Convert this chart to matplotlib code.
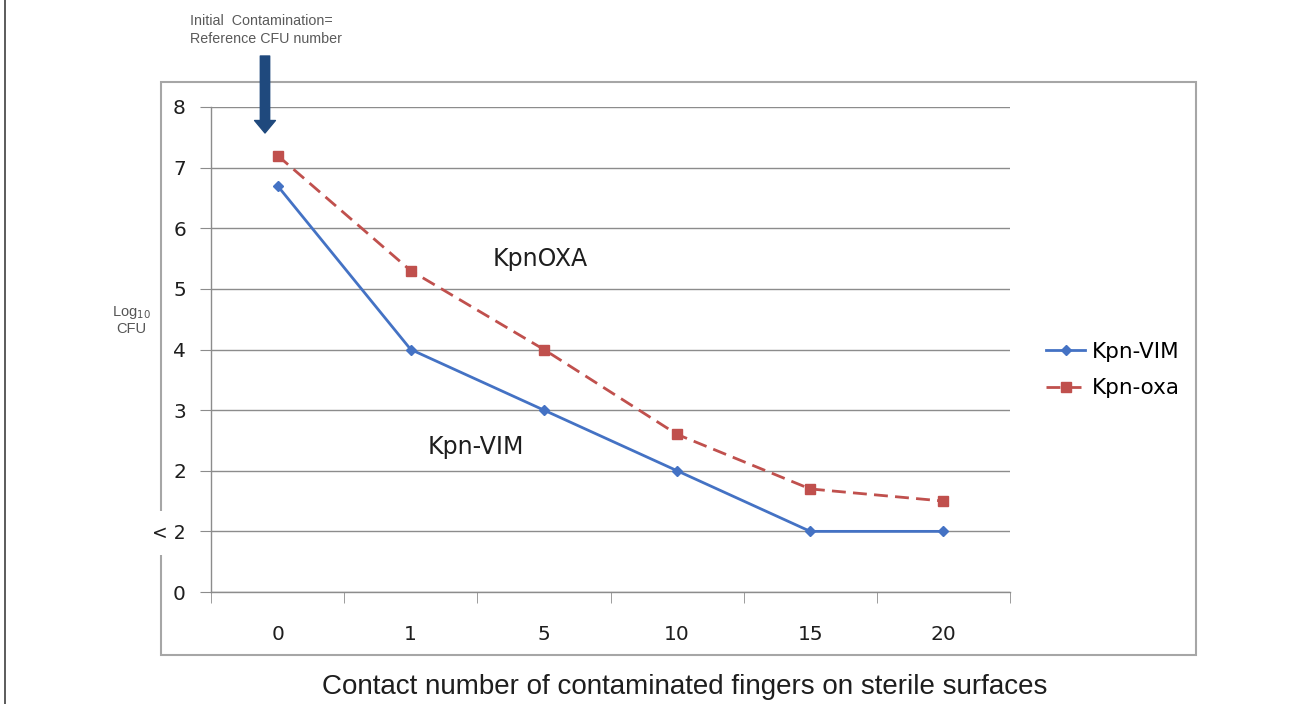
import matplotlib
matplotlib.use("Agg")
import matplotlib.pyplot as plt
from matplotlib.patches import Rectangle
from matplotlib.lines import Line2D

# data
contacts = ["0", "1", "5", "10", "15", "20"]
kpn_vim = [6.7, 4.0, 3.0, 2.0, 1.0, 1.0]
kpn_oxa = [7.2, 5.3, 4.0, 2.6, 1.7, 1.5]
y_ticks = [0, 1, 2, 3, 4, 5, 6, 7, 8]
y_tick_labels = ["0", "< 2", "2", "3", "4", "5", "6", "7", "8"]

W, H = 1293, 704
BLUE = "#4472C4"
RED = "#C0504D"
GRID = "#8C8C8C"
TXT = "#1E1E1E"


def fx(px):
    return px / W


def fy(py):
    return 1 - py / H


fig = plt.figure(figsize=(W / 100, H / 100), dpi=100)
fig.patch.set_facecolor("white")

# outer chart box (drawn under the axes so the "< 2" label can mask it)
fig.patches.append(Rectangle((fx(161), fy(655)), fx(1196) - fx(161), fy(82) - fy(655),
                             transform=fig.transFigure, fill=False,
                             edgecolor="#A6A6A6", lw=1.5, zorder=-1))
# page border on the left
fig.add_artist(Line2D([fx(5), fx(5)], [0, 1], transform=fig.transFigure,
                      color="#404040", lw=1.2))

ax = fig.add_axes([fx(211), fy(592), fx(1010) - fx(211), fy(107) - fy(592)])
x = list(range(len(contacts)))

ax.plot(x, kpn_vim, color=BLUE, lw=2.0, marker="D", ms=5.5, label="Kpn-VIM", zorder=3)
ax.plot(x, kpn_oxa, color=RED, lw=2.0, ls=(0, (5, 2.6)), marker="s", ms=7,
        label="Kpn-oxa", zorder=3)

ax.set_xlim(-0.5, len(contacts) - 0.5)
ax.set_ylim(0, 8)
ax.set_yticks(y_ticks)
ax.set_yticklabels(y_tick_labels)
ax.set_xticks(x)
ax.set_xticklabels(contacts)
ax.set_xticks([i - 0.5 for i in range(len(contacts) + 1)], minor=True)
ax.yaxis.grid(True, color=GRID, lw=1.0)
ax.set_axisbelow(True)

for side in ("top", "right"):
    ax.spines[side].set_visible(False)
for side in ("left", "bottom"):
    ax.spines[side].set_color(GRID)
    ax.spines[side].set_linewidth(1.0)

ax.tick_params(axis="y", length=8, color=GRID, pad=10, labelsize=14.5, labelcolor=TXT)
ax.tick_params(axis="x", which="major", length=0, pad=24, labelsize=14.5, labelcolor=TXT)
ax.tick_params(axis="x", which="minor", length=8, color=GRID)
for lab in ax.get_yticklabels() + ax.get_xticklabels():
    lab.set_fontfamily("DejaVu Sans")
lt = ax.get_yticklabels()[1]
lt.set_fontsize(13.5)
lt.set_bbox(dict(facecolor="white", edgecolor="none", pad=9))

ax.text(1.97, 5.5, "KpnOXA", fontsize=17, family="DejaVu Sans", color=TXT,
        ha="center", va="center")
ax.text(1.49, 2.39, "Kpn-VIM", fontsize=17, family="DejaVu Sans", color=TXT,
        ha="center", va="center")

# y label and annotation
fig.text(fx(131), fy(320), "Log$_{10}$\nCFU", fontsize=10.5, color="#555555",
         ha="center", va="center", family="Liberation Sans", linespacing=1.15)
fig.text(fx(190), fy(30), "Initial  Contamination=\nReference CFU number", fontsize=10.3,
         color="#5A5A5A", ha="left", va="center", family="Liberation Sans", linespacing=1.45)
ax.annotate("", xy=(fx(265), fy(133)), xytext=(fx(265), fy(56)),
            xycoords="figure fraction", textcoords="figure fraction",
            arrowprops=dict(arrowstyle="simple,head_length=0.6,head_width=1.0,tail_width=0.45",
                            mutation_scale=15, color="#1F497D", shrinkA=0, shrinkB=0),
            annotation_clip=False)

fig.text(fx(685), fy(687), "Contact number of contaminated fingers on sterile surfaces",
         fontsize=20, color=TXT, ha="center", va="center", family="Liberation Sans")

fig.legend(loc="center left", bbox_to_anchor=(fx(1027), fy(370)), frameon=False,
           prop={"family": "DejaVu Sans", "size": 15.5}, handlelength=1.8,
           handletextpad=0.3, labelspacing=0.75)

fig.savefig("out.png", dpi=100)
